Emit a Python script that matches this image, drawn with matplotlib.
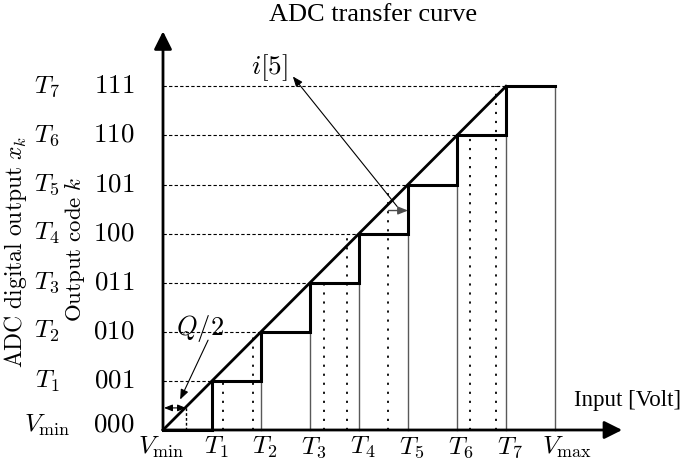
import matplotlib
matplotlib.use("Agg")
import matplotlib.pyplot as plt

plt.rcParams['mathtext.fontset'] = 'cm'
plt.rcParams['font.family'] = ['Liberation Serif', 'DejaVu Serif']

# ---- data ----
levels = [0, 1, 2, 3, 4, 5, 6, 7]
codes = ['000', '001', '010', '011', '100', '101', '110', '111']
y_names = [r'$V_{\min}$', r'$T_1$', r'$T_2$', r'$T_3$', r'$T_4$', r'$T_5$', r'$T_6$', r'$T_7$']
thresholds = [1, 2, 3, 4, 5, 6, 7]
x_names = [r'$V_{\min}$', r'$T_1$', r'$T_2$', r'$T_3$', r'$T_4$', r'$T_5$', r'$T_6$', r'$T_7$', r'$V_{\max}$']
x_name_pos = [-0.04, 1.08, 2.08, 3.08, 4.08, 5.08, 6.08, 7.08, 8.25]
v_max = 8
sample_x = [1.22, 1.84, 3.29, 3.76, 4.6, 6.27, 6.8]
sample_code = [1, 2, 3, 4, 5, 6, 7]
half_q = 0.47
err_y = 4.47

fig = plt.figure(figsize=(6.84, 4.68), dpi=100)
ax = fig.add_axes([0, 0, 1, 1])
ax.set_xlim(-163 / 49, (684 - 163) / 49)
ax.set_ylim((430 - 468) / 49.1, 430 / 49.1)
ax.axis('off')

thin = '0.35'

# dashed horizontal guides from y-axis to the diagonal
for lv in levels[1:]:
    ax.plot([0, lv], [lv, lv], color='black', lw=0.8, dashes=(3, 2), zorder=2)

# thin vertical lines at thresholds (below the step)
for t in thresholds[1:]:
    ax.plot([t, t], [0, t - 1], color=thin, lw=1.0, zorder=2)
ax.plot([v_max, v_max], [0, levels[-1]], color=thin, lw=1.0, zorder=2)

# dotted sample lines
for sx, sc in zip(sample_x, sample_code):
    ax.plot([sx, sx], [0, sc], color='black', lw=1.3, dashes=(1.2, 3.8), zorder=2)
ax.plot([half_q, half_q], [0, half_q], color='black', lw=1.0, dashes=(2, 1.5), zorder=2)

# staircase
sx_pts, sy_pts = [0], [0]
for t in thresholds:
    sx_pts += [t, t]
    sy_pts += [t - 1, t]
sx_pts.append(v_max)
sy_pts.append(levels[-1])
ax.plot(sx_pts, sy_pts, color='black', lw=2.2, solid_joinstyle='miter', zorder=4)

# diagonal ideal line
ax.plot([0, thresholds[-1]], [0, levels[-1]], color='black', lw=2.0, zorder=4)

# axes with arrows
ax.annotate('', xy=(0, 8.12), xytext=(0, 0),
            arrowprops=dict(arrowstyle='-|>,head_length=0.6,head_width=0.3',
                            mutation_scale=18, lw=2.0, color='black',
                            shrinkA=0, shrinkB=0), zorder=5)
ax.annotate('', xy=(9.37, 0), xytext=(0, 0),
            arrowprops=dict(arrowstyle='-|>,head_length=0.6,head_width=0.3',
                            mutation_scale=18, lw=2.0, color='black',
                            shrinkA=0, shrinkB=0), zorder=5)

# y labels
for lv, nm, cd in zip(levels, y_names, codes):
    yy = lv if lv > 0 else 0.1
    ax.text(-2.37, yy, nm, fontsize=18.5, ha='center', va='center')
    ax.text(-1.0, yy, r'$\mathrm{%s}$' % cd, fontsize=19.5, ha='center', va='center')

# x labels
for xp, nm in zip(x_name_pos, x_names):
    ax.text(xp, -0.36, nm, fontsize=18.5, ha='center', va='center')

ax.text(-3.02, 3.63, r'$\mathrm{ADC\ digital\ output}\ x_k$', fontsize=17,
        rotation=90, ha='center', va='center')
ax.text(-1.80, 3.67, r'$\mathrm{Output\ code}\ k$', fontsize=16.5,
        rotation=90, ha='center', va='center')

ax.text(4.29, 8.45, 'ADC transfer curve', fontsize=19, ha='center', va='center')
ax.text(10.57, 0.6, 'Input [Volt]', fontsize=16.5, ha='right', va='center')

# annotations
ax.text(2.18, 7.39, r'$i[5]$', fontsize=19.5, ha='center', va='center')
ax.annotate('', xy=(2.65, 7.2), xytext=(4.78, 4.55),
            arrowprops=dict(arrowstyle='-|>,head_length=0.5,head_width=0.2',
                            mutation_scale=12, lw=0.8, color='black',
                            shrinkA=0, shrinkB=0), zorder=6)
ax.annotate('', xy=(5.0, err_y), xytext=(4.6, err_y),
            arrowprops=dict(arrowstyle='-|>,head_length=0.5,head_width=0.2',
                            mutation_scale=12, lw=1.0, color='0.3',
                            shrinkA=0, shrinkB=0), zorder=6)

ax.text(0.76, 2.06, r'$Q/2$', fontsize=19, ha='center', va='center')
ax.annotate('', xy=(0.35, 0.62), xytext=(0.92, 1.83),
            arrowprops=dict(arrowstyle='-|>,head_length=0.5,head_width=0.2',
                            mutation_scale=12, lw=0.8, color='black',
                            shrinkA=0, shrinkB=0), zorder=6)
ax.annotate('', xy=(0.02, 0.45), xytext=(half_q, 0.45),
            arrowprops=dict(arrowstyle='<|-|>,head_length=0.5,head_width=0.2',
                            mutation_scale=10, lw=0.8, color='black',
                            shrinkA=0, shrinkB=0), zorder=6)

fig.savefig('out.png', dpi=100)
